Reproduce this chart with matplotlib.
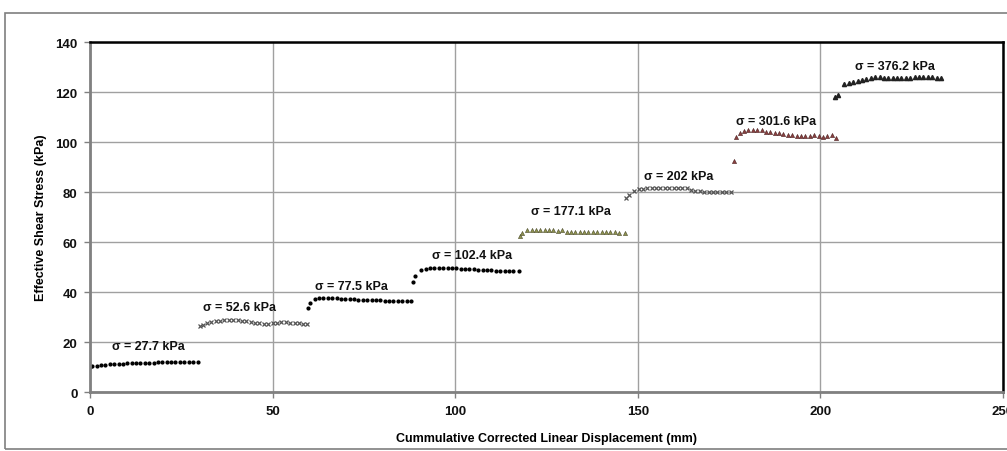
import matplotlib
matplotlib.use("Agg")
import matplotlib.pyplot as plt
from matplotlib.patches import Rectangle

plt.rcParams['font.family'] = ['Liberation Sans', 'DejaVu Sans']

# ---- data ----
s1_x = [0.0, 0.6, 1.8, 3.0, 4.2, 5.4, 6.6, 7.8, 9.0, 10.2, 11.4, 12.6, 13.8, 15.0,
        16.2, 17.4, 18.6, 19.8, 21.0, 22.2, 23.4, 24.6, 25.8, 27.0, 28.2, 29.6]
s1_y = [10.0, 10.3, 10.6, 10.8, 11.0, 11.1, 11.2, 11.3, 11.4, 11.5, 11.6, 11.6, 11.7,
        11.7, 11.8, 11.8, 11.9, 11.9, 12.0, 12.0, 12.0, 12.1, 12.1, 12.1, 12.1, 12.1]

s2_x = [30.2, 30.8, 32.0, 33.2, 34.4, 35.6, 36.8, 38.0, 39.2, 40.4, 41.6, 42.8, 44.0,
        45.2, 46.4, 47.6, 48.8, 50.0, 51.2, 52.4, 53.6, 54.8, 56.0, 57.2, 58.4, 59.4]
s2_y = [26.6, 27.0, 27.6, 28.0, 28.3, 28.6, 28.8, 28.9, 28.9, 28.8, 28.6, 28.3, 28.0,
        27.7, 27.5, 27.4, 27.4, 27.5, 27.7, 27.9, 27.9, 27.8, 27.6, 27.5, 27.4, 27.4]

s3_x = [59.6, 60.3, 61.5, 62.7, 63.9, 65.1, 66.3, 67.5, 68.7, 69.9, 71.1, 72.3, 73.5,
        74.7, 75.9, 77.1, 78.3, 79.5, 80.7, 81.9, 83.1, 84.3, 85.5, 86.7, 88.0]
s3_y = [33.8, 35.8, 37.2, 37.6, 37.7, 37.7, 37.6, 37.5, 37.4, 37.3, 37.2, 37.1, 37.0,
        36.9, 36.8, 36.8, 36.7, 36.7, 36.6, 36.6, 36.6, 36.6, 36.6, 36.6, 36.6]

s4_x = [88.5, 89.1, 90.7, 91.9, 93.1, 94.3, 95.5, 96.7, 97.9, 99.1, 100.3, 101.5, 102.7,
        103.9, 105.1, 106.3, 107.5, 108.7, 109.9, 111.1, 112.3, 113.5, 114.7, 115.9, 117.4]
s4_y = [44.0, 46.4, 48.8, 49.3, 49.5, 49.6, 49.7, 49.7, 49.7, 49.6, 49.5, 49.4, 49.3,
        49.2, 49.1, 49.0, 48.9, 48.8, 48.7, 48.6, 48.5, 48.4, 48.3, 48.3, 48.3]

s5_x = [117.8, 118.4, 119.7, 120.9, 122.1, 123.3, 124.5, 125.7, 126.9, 128.1, 129.3,
        130.5, 131.7, 132.9, 134.1, 135.3, 136.5, 137.7, 138.9, 140.1, 141.3, 142.5,
        143.7, 144.9, 146.5]
s5_y = [62.5, 63.6, 64.8, 64.9, 64.9, 64.9, 64.8, 64.8, 64.7, 64.6, 64.9, 64.0, 63.9,
        63.9, 63.9, 63.9, 63.9, 63.9, 63.9, 63.9, 63.9, 63.9, 63.9, 63.8, 63.8]

s6_x = [146.7, 147.6, 149.0, 150.2, 151.4, 152.6, 153.8, 155.0, 156.2, 157.4, 158.6,
        159.8, 161.0, 162.2, 163.4, 164.6, 165.8, 167.0, 168.2, 169.4, 170.6, 171.8,
        173.0, 174.2, 175.6]
s6_y = [77.6, 78.8, 80.5, 81.2, 81.4, 81.5, 81.5, 81.5, 81.6, 81.6, 81.5, 81.6, 81.6,
        81.5, 81.6, 81.0, 80.6, 80.3, 80.1, 80.0, 80.0, 80.0, 80.0, 80.0, 80.0]

s7_x = [176.4, 177.0, 177.9, 179.1, 180.3, 181.5, 182.7, 183.9, 185.1, 186.3, 187.5,
        188.7, 189.9, 191.1, 192.3, 193.5, 194.7, 195.9, 197.1, 198.3, 199.5, 200.7,
        201.9, 203.1, 204.4]
s7_y = [92.5, 101.9, 103.6, 104.3, 104.7, 104.9, 105.0, 104.8, 104.2, 103.9, 103.8,
        103.5, 103.2, 103.0, 102.8, 102.6, 102.5, 102.4, 102.3, 102.7, 102.3, 102.2,
        102.5, 102.8, 101.8]

s8_x = [204.1, 204.9, 206.6, 207.8, 209.0, 210.2, 211.4, 212.6, 213.8, 215.0, 216.2,
        217.4, 218.6, 219.8, 221.0, 222.2, 223.4, 224.6, 225.8, 227.0, 228.2, 229.4,
        230.6, 231.8, 233.0]
s8_y = [117.9, 118.8, 123.2, 123.6, 124.0, 124.3, 124.7, 125.1, 125.5, 125.9, 126.0,
        125.8, 125.7, 125.7, 125.7, 125.8, 125.8, 125.8, 125.9, 126.0, 126.0, 125.9,
        125.9, 125.8, 125.6]

labels = ["σ = 27.7 kPa", "σ = 52.6 kPa", "σ = 77.5 kPa", "σ = 102.4 kPa",
          "σ = 177.1 kPa", "σ = 202 kPa", "σ = 301.6 kPa", "σ = 376.2 kPa"]
label_x = [6.0, 30.9, 61.5, 93.7, 120.8, 151.6, 177.0, 209.6]
label_y = [18.4, 34.0, 42.4, 54.8, 72.4, 86.4, 108.4, 130.4]

x_ticks = [0, 50, 100, 150, 200, 250]
y_ticks = [0, 20, 40, 60, 80, 100, 120, 140]

# ---- figure ----
fig = plt.figure(figsize=(10.07, 4.52), dpi=100)
fig.patches.append(Rectangle((0.005, 0.005), 1.2, 0.965, transform=fig.transFigure,
                             fill=False, edgecolor='#7f7f7f', linewidth=1.2))
ax = fig.add_axes([0.0894, 0.1305, 0.9066, 0.7743])

ax.plot(s1_x, s1_y, 'o', color='black', markersize=2.0, linestyle='none')
ax.plot(s2_x, s2_y, 'x', color='#555555', markersize=2.6, markeredgewidth=0.9, linestyle='none')
ax.plot(s3_x, s3_y, 'o', color='black', markersize=2.0, linestyle='none')
ax.plot(s4_x, s4_y, 'o', color='black', markersize=2.0, linestyle='none')
ax.plot(s5_x, s5_y, '^', color='#8f9350', markeredgecolor='#4a4a2a', markeredgewidth=0.4,
        markersize=3.0, linestyle='none')
ax.plot(s6_x, s6_y, 'x', color='#555555', markersize=2.6, markeredgewidth=0.9, linestyle='none')
ax.plot(s7_x, s7_y, '^', color='#8b4040', markeredgecolor='#4a2020', markeredgewidth=0.4,
        markersize=3.0, linestyle='none')
ax.plot(s8_x, s8_y, '^', color='#222222', markersize=3.0, linestyle='none')

for t, lx, ly in zip(labels, label_x, label_y):
    ax.text(lx, ly, t, ha='left', va='center', fontsize=9, fontweight='bold', color='#111111')

ax.set_xlim(0, 250)
ax.set_ylim(0, 140)
ax.set_xticks(x_ticks)
ax.set_yticks(y_ticks)
ax.grid(True, color='#a0a0a0', linewidth=1.0)
ax.set_axisbelow(True)

for side in ['top', 'right']:
    ax.spines[side].set_color('black')
    ax.spines[side].set_linewidth(1.8)
for side in ['left', 'bottom']:
    ax.spines[side].set_color('#808080')
    ax.spines[side].set_linewidth(2.0)

ax.tick_params(axis='both', direction='out', length=4, width=1, color='#808080',
               labelsize=9.5, labelcolor='#111111', pad=5)
for lab in ax.get_xticklabels() + ax.get_yticklabels():
    lab.set_fontweight('bold')

ax.set_xlabel("Cummulative Corrected Linear Displacement (mm)", fontsize=9,
              fontweight='bold', labelpad=11)
ax.set_ylabel("Effective Shear Stress (kPa)", fontsize=9, fontweight='bold', labelpad=6)

fig.savefig("out.png", dpi=100)
